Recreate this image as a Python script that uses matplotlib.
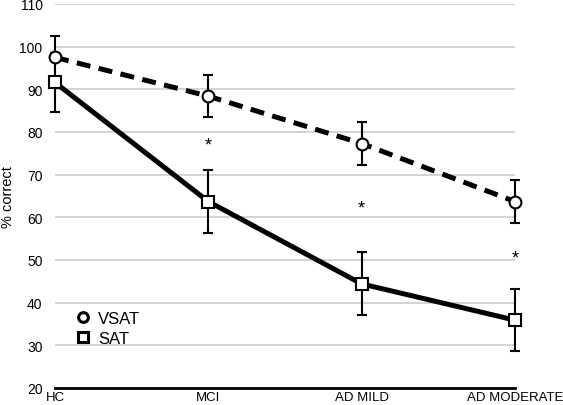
import matplotlib.pyplot as plt
from matplotlib.lines import Line2D

# data
grupos = ['HC', 'MCI', 'AD MILD', 'AD MODERATE']
vsat = [97.5, 88.4, 77.3, 63.7]
vsat_err = [5.0, 5.0, 5.0, 5.0]
sat = [91.6, 63.7, 44.4, 35.9]
sat_err = [7.0, 7.3, 7.4, 7.3]
estrelas = [None, 76.9, 62.2, 50.4]
yticks = [20, 30, 40, 50, 60, 70, 80, 90, 100, 110]

plt.rcParams['font.family'] = ['Liberation Sans', 'DejaVu Sans']

fig = plt.figure(figsize=(5.63, 4.06), dpi=100)
ax = fig.add_axes([0.0977, 0.0419, 0.8170, 0.9458])

x = list(range(len(grupos)))

# linhas
ax.plot(x, sat, '-', color='black', linewidth=3.6, zorder=3, clip_on=False)
ax.plot(x, vsat, '--', color='black', linewidth=3.6, dashes=(2.8, 1.7), zorder=3,
        clip_on=False)

# barras de erro
for serie, err in [(sat, sat_err), (vsat, vsat_err)]:
    eb = ax.errorbar(x, serie, yerr=err, fmt='none', ecolor='black', elinewidth=1.5,
                     capsize=3.6, capthick=1.5, zorder=4)
    for art in eb.lines[1] + eb.lines[2]:
        art.set_clip_on(False)

# marcadores
ax.plot(x, sat, 's', markersize=8, markerfacecolor='white', markeredgecolor='black',
        markeredgewidth=1.5, zorder=5, clip_on=False)
ax.plot(x, vsat, 'o', markersize=8.5, markerfacecolor='white', markeredgecolor='black',
        markeredgewidth=1.5, zorder=5, clip_on=False)

# asteriscos
for i, e in enumerate(estrelas):
    if e is not None:
        ax.text(x[i], e, '*', ha='center', va='center', fontsize=13, zorder=6)

ax.set_xlim(0, 3)
ax.set_ylim(20, 110)
ax.set_yticks(yticks)
ax.set_xticks(x)
ax.set_xticklabels(grupos)
ax.tick_params(axis='y', length=0, labelsize=10, pad=9)
ax.tick_params(axis='x', length=0, labelsize=9.5, pad=2)
ax.grid(axis='y', color='#cccccc', linewidth=1.2)
ax.set_axisbelow(True)
for s in ['left', 'right', 'top']:
    ax.spines[s].set_visible(False)
ax.spines['bottom'].set_linewidth(2)
ax.spines['bottom'].set_zorder(6)
ax.set_ylabel('% correct', fontsize=10.5)
ax.yaxis.set_label_coords(-0.087, 0.5)

handles = [
    Line2D([], [], marker='o', linestyle='none', markersize=7, markerfacecolor='white',
           markeredgecolor='black', markeredgewidth=2.2),
    Line2D([], [], marker='s', linestyle='none', markersize=7, markerfacecolor='white',
           markeredgecolor='black', markeredgewidth=2.2),
]
ax.legend(handles, ['VSAT', 'SAT'], loc='upper left', bbox_to_anchor=(0.0, 0.24),
          frameon=False, fontsize=12, handletextpad=0.2, labelspacing=0.3,
          handlelength=1.5)

fig.savefig('out.png', dpi=100)
